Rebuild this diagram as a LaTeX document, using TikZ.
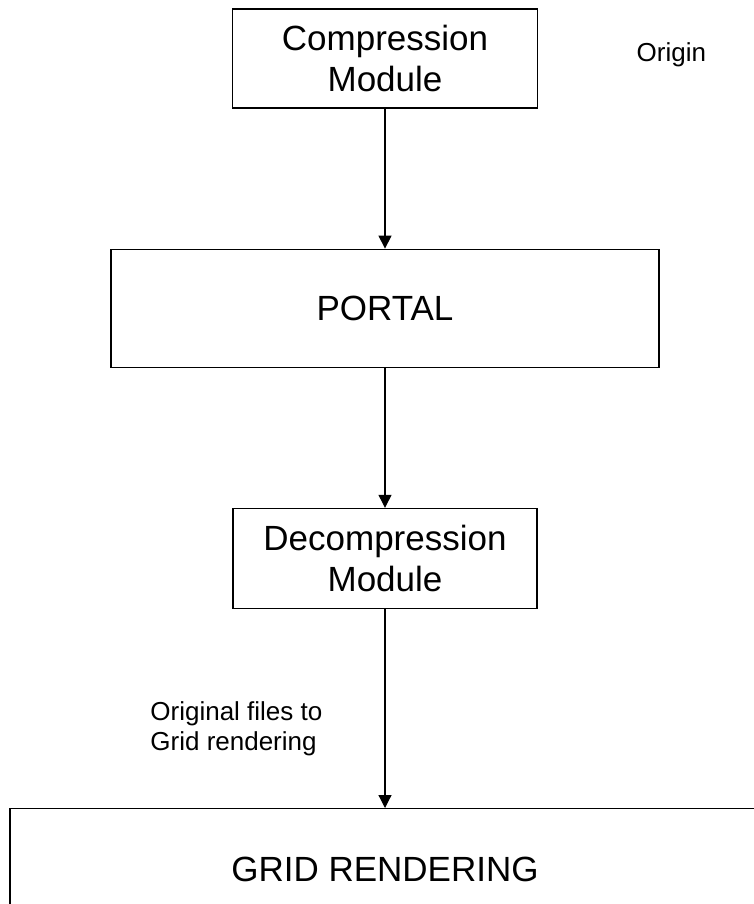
\documentclass[tikz,border=0pt]{standalone}
\usepackage{fontspec}
\setmainfont{Liberation Sans}
\usetikzlibrary{arrows.meta,positioning}

\begin{document}
\begin{tikzpicture}[node distance=140pt,>={Triangle[length=13pt,width=13pt]},line width=1.2pt,
		box/.style={draw,align=center,font=\fontsize{35}{41}\selectfont},
		lbl/.style={inner sep=0pt,align=left,font=\fontsize{26}{30}\selectfont}]
		
		\clip (0pt,0pt) rectangle (754pt,-904pt);
		
		\node[box,minimum width=305pt,minimum height=99pt]  (comp) at (385pt,-58.5pt) {Compression\\Module};
		\node[box,minimum width=548pt,minimum height=118pt]  (portal) [below=of comp] {PORTAL};
		\node[box,minimum width=304pt,minimum height=100pt]  (decomp) [below=of portal] {Decompression\\Module};
		\node[box,minimum width=750pt,minimum height=122pt]  (grid) [below=199pt of decomp] {GRID RENDERING};
		\node[lbl,anchor=west]  (origin) [right=98pt of comp.east,yshift=4pt] {Origin};
		
		\path[->] (comp) edge (portal);
		\path[->] (portal) edge (decomp);
		\path[->] (decomp) edge node[lbl,pos=0.6,left=62pt] {Original files to\\Grid rendering} (grid);
	\end{tikzpicture}
\end{document}
